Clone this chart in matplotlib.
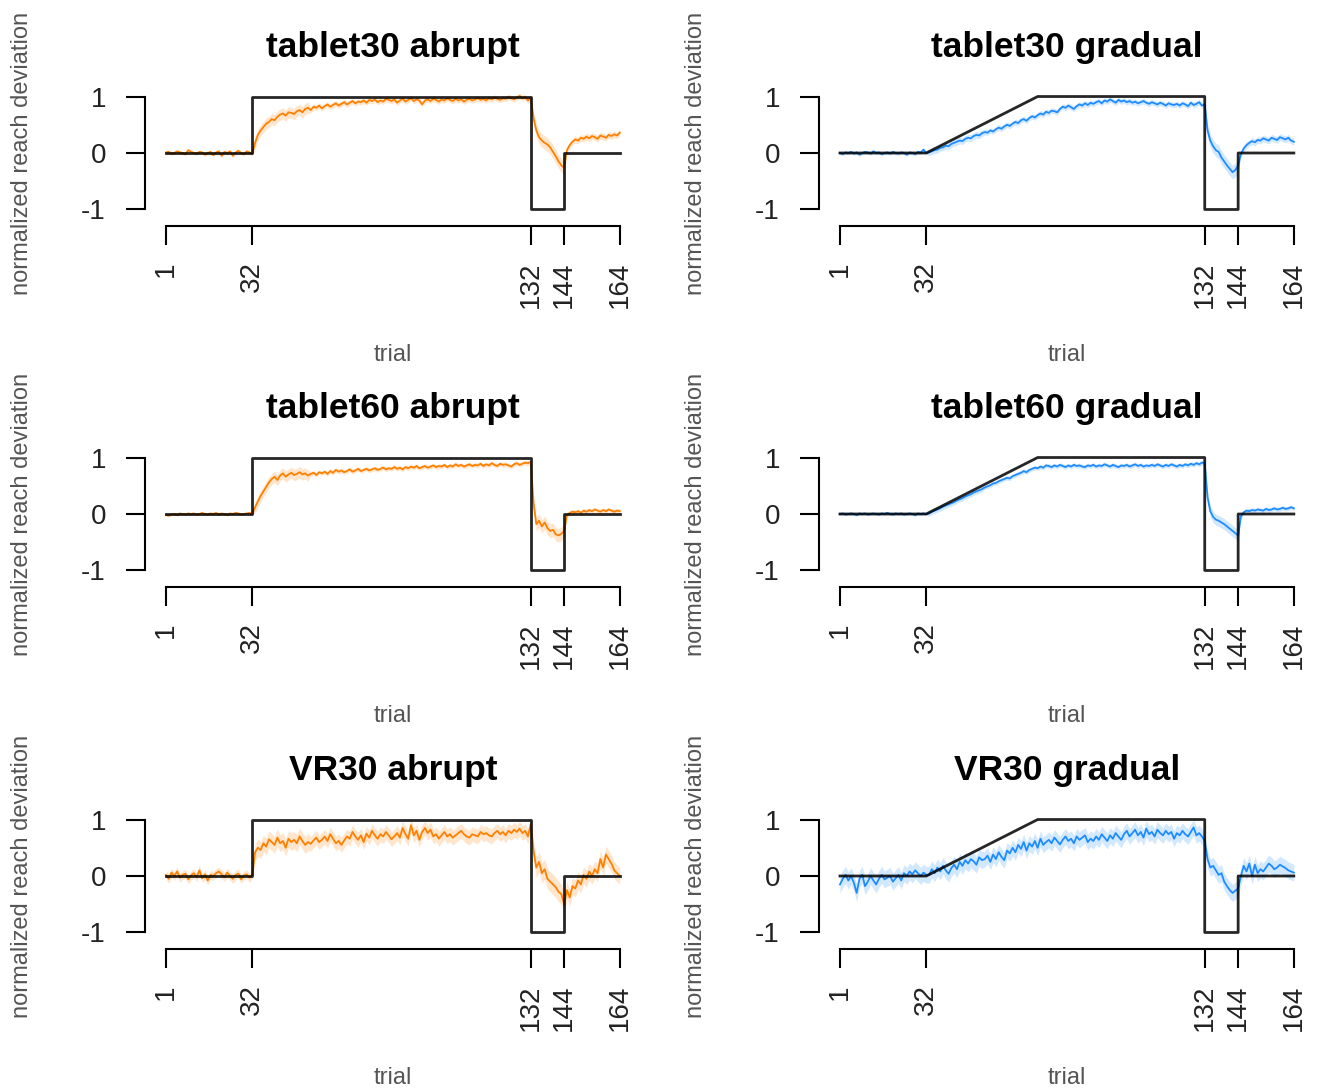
import numpy as np
import matplotlib
matplotlib.use('Agg')
import matplotlib.pyplot as plt

plt.rcParams['font.family'] = ['Liberation Sans', 'DejaVu Sans']
plt.rcParams['axes.unicode_minus'] = False

# ===== DATA =====
trials = np.arange(1, 165)

# perturbation schedules (trial, normalized rotation)
abrupt_x = [1, 32, 32, 132, 132, 144, 144, 164]
abrupt_y = [0, 0, 1, 1, -1, -1, 0, 0]
gradual_x = [1, 32, 72, 132, 132, 144, 144, 164]
gradual_y = [0, 0, 1, 1, -1, -1, 0, 0]

# phase lengths: baseline, early rotation, late rotation, reversal, clamp
phase_len = [32, 20, 80, 12, 20]

tablet30_abrupt = [
    0.01, 0.02, -0.01, 0.0, 0.03, 0.01, 0.0, -0.02, 0.05, 0.02,
    0.0, -0.01, 0.02, 0.01, -0.03, 0.0, 0.02, -0.04, 0.01, 0.03,
    -0.05, 0.02, 0.0, 0.03, -0.05, 0.01, 0.04, 0.0, -0.02, 0.03,
    0.01, -0.02,
    0.18, 0.32, 0.40, 0.46, 0.52, 0.55, 0.60, 0.58, 0.64, 0.68,
    0.70, 0.66, 0.72, 0.71, 0.69, 0.74, 0.76, 0.72, 0.78, 0.80,
    0.76, 0.82, 0.80, 0.84, 0.79, 0.83, 0.86, 0.82, 0.85, 0.88,
    0.84, 0.87, 0.90, 0.86, 0.89, 0.92, 0.88, 0.91, 0.90, 0.93,
    0.89, 0.94, 0.92, 0.95, 0.90, 0.93, 0.91, 0.96, 0.94, 0.92,
    0.95, 0.89, 0.93, 0.96, 0.91, 0.94, 0.97, 0.92, 0.95, 0.93,
    0.86, 0.93, 0.95, 0.92, 0.96, 0.94, 0.91, 0.95, 0.93, 0.97,
    0.94, 0.92, 0.96, 0.93, 0.95, 0.91, 0.94, 0.96, 0.93, 0.95,
    0.97, 0.94, 0.96, 0.93, 0.97, 0.95, 0.98, 0.96, 0.94, 0.97,
    0.96, 0.99, 0.97, 0.95, 0.98, 1.01, 0.97, 0.99, 0.93, 0.98,
    0.62, 0.40, 0.28, 0.22, 0.18, 0.15, 0.10, 0.02, -0.06, -0.15,
    -0.22, -0.26,
    0.05, 0.14, 0.20, 0.24, 0.22, 0.27, 0.25, 0.29, 0.26, 0.30,
    0.28, 0.25, 0.31, 0.29, 0.27, 0.32, 0.30, 0.33, 0.31, 0.36]

tablet30_gradual = [
    0.0, -0.02, 0.01, 0.0, 0.02, -0.01, 0.01, -0.03, 0.0, 0.02,
    0.01, -0.01, 0.03, 0.0, 0.01, -0.02, 0.0, 0.01, -0.01, 0.02,
    0.0, -0.01, 0.01, 0.0, -0.03, 0.01, 0.0, -0.02, 0.02, 0.01,
    0.06, 0.0,
    0.01, 0.03, 0.05, 0.06, 0.09, 0.10, 0.13, 0.12, 0.16, 0.18,
    0.20, 0.22, 0.21, 0.25, 0.27, 0.26, 0.30, 0.32, 0.31, 0.35,
    0.37, 0.36, 0.40, 0.38, 0.42, 0.45, 0.43, 0.47, 0.50, 0.48,
    0.52, 0.55, 0.53, 0.58, 0.60, 0.57, 0.62, 0.65, 0.63, 0.67,
    0.70, 0.68, 0.73, 0.71, 0.75, 0.74, 0.72, 0.78, 0.82, 0.80,
    0.84, 0.81, 0.78, 0.83, 0.86, 0.84, 0.88, 0.85, 0.89, 0.87,
    0.90, 0.92, 0.88, 0.93, 0.91, 0.95, 0.92, 0.89, 0.94, 0.91,
    0.93, 0.90, 0.92, 0.89, 0.91, 0.88, 0.90, 0.92, 0.89, 0.87,
    0.90, 0.88, 0.86, 0.89, 0.87, 0.84, 0.88, 0.86, 0.85, 0.87,
    0.84, 0.88, 0.86, 0.83, 0.89, 0.85, 0.87, 0.90, 0.84, 0.86,
    0.40, 0.22, 0.12, 0.05, 0.02, -0.08, -0.15, -0.22, -0.28, -0.34,
    -0.30, -0.22,
    -0.02, 0.08, 0.14, 0.18, 0.21, 0.19, 0.23, 0.22, 0.26, 0.24,
    0.22, 0.27, 0.25, 0.23, 0.28, 0.26, 0.24, 0.27, 0.22, 0.20]

tablet60_abrupt = [
    -0.02, -0.03, -0.01, 0.0, -0.02, 0.01, 0.0, -0.01, 0.01, 0.0,
    0.01, -0.01, 0.0, 0.02, 0.0, -0.01, 0.01, 0.0, 0.02, -0.01,
    0.01, 0.0, -0.02, 0.01, 0.0, 0.02, 0.01, -0.01, 0.0, 0.01,
    0.02, 0.0,
    0.12, 0.22, 0.32, 0.40, 0.48, 0.56, 0.62, 0.66, 0.60, 0.68,
    0.72, 0.66, 0.70, 0.73, 0.69, 0.71, 0.74, 0.70, 0.72, 0.68,
    0.71, 0.73, 0.69, 0.74, 0.72, 0.75, 0.71, 0.76, 0.73, 0.78,
    0.75, 0.77, 0.74, 0.76, 0.79, 0.75, 0.77, 0.80, 0.76, 0.78,
    0.80, 0.77, 0.79, 0.81, 0.78, 0.80, 0.82, 0.79, 0.81, 0.80,
    0.83, 0.80, 0.82, 0.79, 0.83, 0.81, 0.84, 0.82, 0.85, 0.81,
    0.83, 0.85, 0.82, 0.84, 0.86, 0.83, 0.85, 0.84, 0.87, 0.83,
    0.86, 0.84, 0.88, 0.85, 0.87, 0.84, 0.86, 0.88, 0.85, 0.87,
    0.86, 0.89, 0.85, 0.88, 0.86, 0.90, 0.87, 0.85, 0.89, 0.87,
    0.88, 0.86, 0.84, 0.88, 0.90, 0.87, 0.89, 0.91, 0.90, 0.92,
    0.20, -0.18, -0.12, -0.22, -0.15, -0.25, -0.30, -0.28, -0.36, -0.38,
    -0.35, -0.30,
    -0.02, 0.02, 0.04, 0.03, 0.05, 0.02, 0.06, 0.04, 0.07, 0.05,
    0.08, 0.06, 0.04, 0.07, 0.05, 0.08, 0.06, 0.04, 0.06, 0.05]

tablet60_gradual = [
    0.0, 0.01, -0.01, 0.0, 0.01, 0.0, -0.02, 0.01, 0.0, 0.01,
    -0.01, 0.0, 0.01, 0.0, -0.01, 0.01, 0.0, 0.02, 0.0, -0.01,
    0.01, 0.0, 0.01, -0.01, 0.0, 0.01, 0.0, -0.02, 0.01, 0.0,
    0.01, 0.0,
    0.01, 0.04, 0.06, 0.08, 0.10, 0.13, 0.15, 0.17, 0.19, 0.21,
    0.24, 0.26, 0.28, 0.31, 0.33, 0.35, 0.38, 0.40, 0.42, 0.44,
    0.47, 0.49, 0.51, 0.54, 0.55, 0.58, 0.60, 0.62, 0.64, 0.63,
    0.67, 0.69, 0.71, 0.73, 0.76, 0.74, 0.78, 0.80, 0.82, 0.81,
    0.84, 0.82, 0.86, 0.85, 0.83, 0.86, 0.84, 0.87, 0.85, 0.83,
    0.86, 0.84, 0.87, 0.85, 0.86, 0.84, 0.83, 0.86, 0.85, 0.87,
    0.84, 0.86, 0.85, 0.88, 0.86, 0.84, 0.87, 0.85, 0.83, 0.86,
    0.85, 0.87, 0.84, 0.86, 0.88, 0.85, 0.87, 0.84, 0.86, 0.85,
    0.87, 0.85, 0.88, 0.86, 0.84, 0.87, 0.85, 0.88, 0.86, 0.84,
    0.87, 0.85, 0.88, 0.86, 0.89, 0.87, 0.90, 0.88, 0.91, 0.90,
    0.30, 0.05, -0.05, -0.10, -0.12, -0.15, -0.18, -0.22, -0.26, -0.30,
    -0.34, -0.38,
    -0.04, 0.03, 0.06, 0.05, 0.07, 0.06, 0.08, 0.07, 0.06, 0.09,
    0.07, 0.08, 0.10, 0.08, 0.09, 0.11, 0.09, 0.10, 0.12, 0.10]

vr30_abrupt = [
    0.02, -0.05, 0.06, 0.0, 0.08, -0.03, 0.02, 0.04, -0.06, 0.01,
    0.05, -0.02, 0.10, -0.04, 0.03, -0.08, 0.02, 0.0, 0.05, 0.08,
    0.03, -0.02, 0.06, 0.0, -0.05, 0.02, 0.04, -0.06, 0.01, 0.03,
    -0.03, 0.02,
    0.42, 0.50, 0.46, 0.58, 0.52, 0.65, 0.60, 0.55, 0.68, 0.58,
    0.62, 0.50, 0.66, 0.60, 0.64, 0.58, 0.70, 0.62, 0.55, 0.60,
    0.57, 0.63, 0.68, 0.60, 0.64, 0.70, 0.62, 0.74, 0.66, 0.58,
    0.62, 0.55, 0.63, 0.70, 0.66, 0.78, 0.70, 0.64, 0.72, 0.60,
    0.75, 0.68, 0.80, 0.72, 0.66, 0.74, 0.70, 0.78, 0.72, 0.65,
    0.70, 0.76, 0.68, 0.85, 0.74, 0.66, 0.90, 0.72, 0.80, 0.64,
    0.78, 0.85, 0.76, 0.82, 0.70, 0.74, 0.66, 0.72, 0.78, 0.70,
    0.74, 0.68, 0.72, 0.76, 0.80, 0.74, 0.70, 0.68, 0.74, 0.72,
    0.70, 0.78, 0.74, 0.76, 0.72, 0.70, 0.76, 0.80, 0.74, 0.78,
    0.72, 0.80, 0.76, 0.82, 0.78, 0.84, 0.76, 0.80, 0.70, 0.92,
    0.45, 0.15, 0.25, 0.05, 0.12, -0.05, -0.10, -0.15, -0.20, -0.28,
    -0.32, -0.50,
    -0.25, -0.38, -0.18, -0.22, -0.08, -0.15, 0.02, -0.05, 0.08, 0.00,
    0.12, 0.05, 0.30, 0.15, 0.38, 0.30, 0.22, 0.10, 0.05, 0.00]

vr30_gradual = [
    -0.15, -0.05, 0.02, -0.08, 0.0, -0.12, -0.30, -0.05, 0.02, -0.18,
    -0.10, 0.0, -0.08, -0.15, -0.05, 0.02, -0.06, -0.03, 0.0, -0.10,
    -0.04, 0.02, -0.08, 0.05, 0.0, 0.08, 0.03, 0.10, 0.05, 0.0,
    0.06, 0.02,
    0.02, 0.12, 0.05, 0.15, 0.08, 0.18, 0.10, 0.04, 0.14, 0.20,
    0.12, 0.25, 0.18, 0.28, 0.22, 0.30, 0.26, 0.20, 0.33, 0.28,
    0.30, 0.36, 0.25, 0.38, 0.30, 0.42, 0.34, 0.28, 0.45, 0.40,
    0.50, 0.42, 0.55, 0.48, 0.60, 0.45, 0.58, 0.52, 0.62, 0.50,
    0.66, 0.55, 0.60, 0.64, 0.58, 0.68, 0.62, 0.56, 0.64, 0.70,
    0.62, 0.66, 0.58, 0.70, 0.64, 0.68, 0.72, 0.60, 0.66, 0.62,
    0.70, 0.64, 0.74, 0.68, 0.62, 0.72, 0.66, 0.76, 0.70, 0.64,
    0.74, 0.80, 0.70, 0.76, 0.82, 0.72, 0.78, 0.68, 0.84, 0.74,
    0.78, 0.70, 0.82, 0.76, 0.72, 0.80, 0.74, 0.78, 0.66, 0.76,
    0.72, 0.80, 0.74, 0.70, 0.78, 0.86, 0.72, 0.76, 0.70, 0.62,
    0.30, 0.15, 0.18, 0.10, 0.02, 0.05, -0.10, -0.18, -0.25, -0.30,
    -0.26, -0.22,
    0.0, 0.18, 0.08, 0.22, 0.0, 0.20, 0.05, 0.12, 0.08, 0.15,
    0.22, 0.18, 0.12, 0.15, 0.20, 0.17, 0.14, 0.10, 0.08, 0.06]

# confidence band half-width per phase
tablet30_abrupt_ci = [0.03, 0.10, 0.05, 0.12, 0.06]
tablet30_gradual_ci = [0.03, 0.06, 0.05, 0.12, 0.06]
tablet60_abrupt_ci = [0.02, 0.10, 0.04, 0.12, 0.04]
tablet60_gradual_ci = [0.02, 0.05, 0.04, 0.10, 0.04]
vr30_abrupt_ci = [0.08, 0.15, 0.13, 0.18, 0.15]
vr30_gradual_ci = [0.15, 0.15, 0.14, 0.15, 0.15]

titles = ['tablet30 abrupt', 'tablet30 gradual',
          'tablet60 abrupt', 'tablet60 gradual',
          'VR30 abrupt', 'VR30 gradual']
series = [tablet30_abrupt, tablet30_gradual,
          tablet60_abrupt, tablet60_gradual,
          vr30_abrupt, vr30_gradual]
bands = [tablet30_abrupt_ci, tablet30_gradual_ci,
         tablet60_abrupt_ci, tablet60_gradual_ci,
         vr30_abrupt_ci, vr30_gradual_ci]
xticks = [1, 32, 132, 144, 164]

orange = '#ff8000'
blue = '#1e8cff'

# ===== FIGURE =====
W, H = 1317, 1089
fig = plt.figure(figsize=(W / 100, H / 100), dpi=100)

# axes boxes in pixels (left, top), same size for all panels
col_left = [144.8, 818.8]
row_top = [79.8, 440.8, 802.8]
box_w, box_h = 496.2, 146.4

for i in range(6):
    r, c = divmod(i, 2)
    ax = fig.add_axes([col_left[c] / W, 1 - (row_top[r] + box_h) / H,
                       box_w / W, box_h / H])
    y = np.array(series[i])
    hw = np.repeat(bands[i], phase_len)
    color = orange if c == 0 else blue

    ax.fill_between(trials, y - hw, y + hw, color=color, alpha=0.2, lw=0)
    ax.plot(trials, y, color=color, lw=1.3)
    if c == 0:
        ax.plot(abrupt_x, abrupt_y, color='black', lw=2.0, alpha=0.85)
    else:
        ax.plot(gradual_x, gradual_y, color='black', lw=2.0, alpha=0.85)

    ax.set_xlim(-6.6, 171.6)
    ax.set_ylim(-1.296, 1.296)
    for s in ['top', 'right']:
        ax.spines[s].set_visible(False)
    ax.spines['left'].set_bounds(-1, 1)
    ax.spines['bottom'].set_bounds(1, 164)
    for s in ['left', 'bottom']:
        ax.spines[s].set_linewidth(1.5)
    ax.set_yticks([-1, 0, 1])
    ax.set_yticklabels(['-1', '0', '1'], fontsize=20, color='#222222')
    ax.set_xticks(xticks)
    ax.set_xticklabels([str(t) for t in xticks], fontsize=20,
                       rotation=90, color='#222222')
    ax.tick_params(axis='y', length=14, width=1.5, pad=14)
    ax.tick_params(axis='x', length=13.5, width=1.5, pad=12)

    ax.text(0.5, 1.224, titles[i], transform=ax.transAxes, ha='center',
            va='center', fontsize=25.5, fontweight='bold')
    ax.text(0.5, -0.88, 'trial', transform=ax.transAxes, ha='center',
            va='center', fontsize=17, color='#555555')
    ax.text(-0.2475, 0.5, 'normalized reach deviation', transform=ax.transAxes,
            ha='center', va='center', rotation=90, fontsize=17,
            color='#555555')

fig.savefig('out.png', dpi=100)
